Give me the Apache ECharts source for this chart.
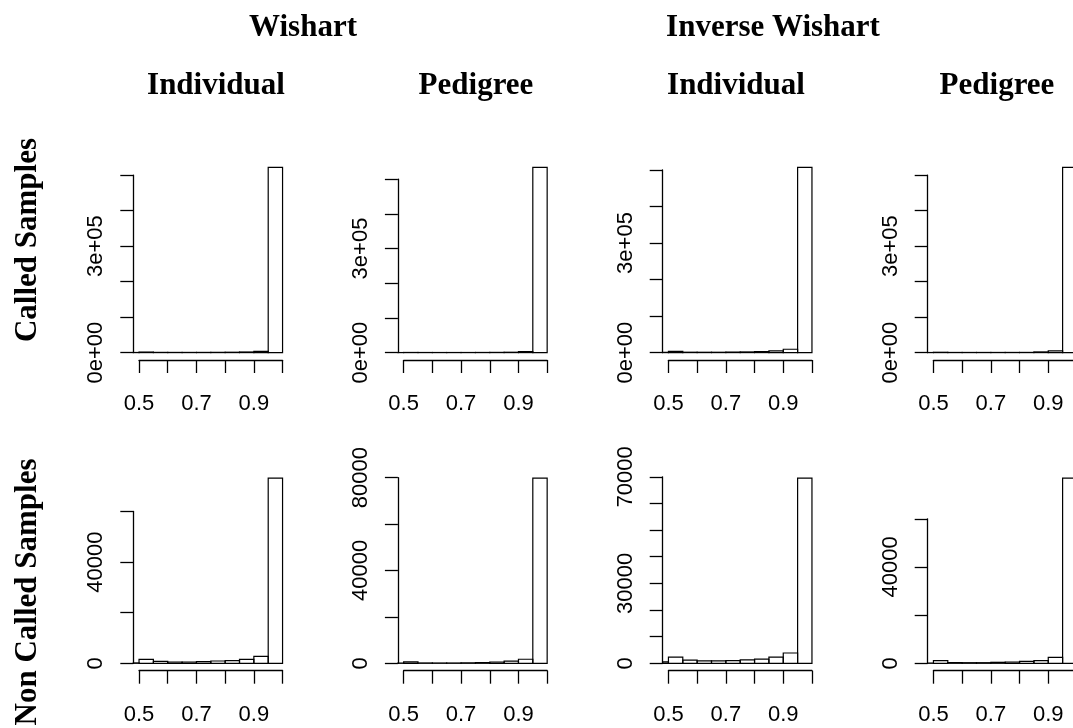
<!DOCTYPE html>
<html>
<head>
<meta charset="utf-8">
<script src="https://cdn.jsdelivr.net/npm/echarts@6/dist/echarts.min.js"></script>
<style>
  html, body { margin: 0; padding: 0; background: #fff; }
  #chart { width: 1073px; height: 728px; }
</style>
</head>
<body>
<div id="chart"></div>
<script>
// Histogram bins (width 0.05); the first bin is partly outside the x range and gets clipped.
const binEdges = [0.45, 0.5, 0.55, 0.6, 0.65, 0.7, 0.75, 0.8, 0.85, 0.9, 0.95, 1.0];

// Counts per bin, one array per panel
const calledWishartIndividual      = [300, 1500, 600, 500, 500, 550, 700, 1000, 1700, 3500, 521700];
const calledWishartPedigree        = [100, 400, 300, 250, 250, 300, 400, 600, 1000, 2900, 533700];
const calledInvWishartIndividual   = [700, 3600, 1000, 900, 900, 1400, 1800, 2700, 4600, 9100, 507000];
const calledInvWishartPedigree     = [200, 900, 400, 400, 400, 400, 450, 500, 1900, 4700, 521700];
const nonCalledWishartIndividual   = [150, 1580, 790, 510, 510, 660, 910, 1050, 1580, 2770, 73200];
const nonCalledWishartPedigree     = [100, 650, 150, 130, 130, 200, 300, 560, 930, 1750, 79800];
const nonCalledInvWishartIndividual = [500, 2300, 1200, 870, 870, 1000, 1250, 1600, 2300, 3870, 69500];
const nonCalledInvWishartPedigree  = [100, 1100, 290, 250, 250, 410, 540, 830, 1100, 2480, 76900];

const panelCounts = [
  calledWishartIndividual, calledWishartPedigree, calledInvWishartIndividual, calledInvWishartPedigree,
  nonCalledWishartIndividual, nonCalledWishartPedigree, nonCalledInvWishartIndividual, nonCalledInvWishartPedigree
];

// Axis ticks
const xTicks = [0.5, 0.6, 0.7, 0.8, 0.9, 1.0];
const xLabelValues = [0.5, 0.7, 0.9];
const xLabelText = ['0.5', '0.7', '0.9'];
const yTickStep = [100000, 100000, 100000, 100000, 20000, 20000, 10000, 20000];
const yTickTop  = [500000, 500000, 500000, 500000, 60000, 80000, 70000, 60000];
const yLabelValues = [[0, 300000], [0, 300000], [0, 300000], [0, 300000],
                      [0, 40000], [0, 40000, 80000], [0, 30000, 70000], [0, 40000]];
const yLabelText = [['0e+00', '3e+05'], ['0e+00', '3e+05'], ['0e+00', '3e+05'], ['0e+00', '3e+05'],
                    ['0', '40000'], ['0', '40000', '80000'], ['0', '30000', '70000'], ['0', '40000']];

// Headings
const groupTitles = ['Wishart', 'Inverse Wishart'];
const columnTitles = ['Individual', 'Pedigree', 'Individual', 'Pedigree'];
const rowTitles = ['Called Samples', 'Non Called Samples'];

// Layout of the plot regions (pixels)
const colLeft = [133.3, 397.9, 662.7, 927.7];
const rowTop = [160, 470.7];
const plotW = 155, plotH = 200;
const groupTitleX = [303, 773];
const columnTitleX = [216, 476, 736, 997];
const rowTitleY = [240, 592];

const INK = '#000';
const tickFont = { fontFamily: '"Liberation Sans", Arial, sans-serif', fontSize: 22, color: INK };
const headFont = { fontFamily: '"Liberation Serif", "Times New Roman", serif', fontWeight: 'bold', fontSize: 31, fill: INK };

// R-style range padding: 4% on each side
const pad = (lo, hi) => [lo - 0.04 * (hi - lo), hi + 0.04 * (hi - lo)];

function renderBin(params, api) {
  const a = api.coord([api.value(0), api.value(2)]);
  const b = api.coord([api.value(1), 0]);
  const cs = params.coordSys;
  const shape = echarts.graphic.clipRectByRect(
    { x: a[0], y: a[1], width: b[0] - a[0], height: b[1] - a[1] },
    { x: cs.x, y: cs.y, width: cs.width, height: cs.height }
  );
  if (!shape) return null;
  return { type: 'rect', shape: shape, style: { fill: 'none', stroke: INK, lineWidth: 1.2 } };
}

const labelLookup = (values, texts) => v => {
  for (let i = 0; i < values.length; i++) {
    if (Math.abs(values[i] - v) < 1e-9 * Math.max(1, Math.abs(v))) return texts[i];
  }
  return '';
};

const gridBase = { containLabel: false, outerBoundsMode: 'none', show: false };
const grids = [], xAxes = [], yAxes = [], series = [];
const hiddenAxis = { type: 'value', show: false, min: 0, max: 1, splitLine: { show: false } };
const lineStyle = { color: INK, width: 1.3 };

panelCounts.forEach((counts, p) => {
  const r = Math.floor(p / 4), c = p % 4;
  const [xLo, xHi] = pad(xTicks[0], xTicks[xTicks.length - 1]);
  const [yLo, yHi] = pad(0, Math.max.apply(null, counts));
  const left = colLeft[c], top = rowTop[r];
  const px = v => left + (v - xLo) / (xHi - xLo) * plotW;
  const py = v => top + (yHi - v) / (yHi - yLo) * plotH;

  // plot region holding the bars
  let gi = grids.length;
  grids.push(Object.assign({ left: left, top: top, width: plotW, height: plotH }, gridBase));
  xAxes.push({ gridIndex: gi, type: 'value', min: xLo, max: xHi, show: false, splitLine: { show: false } });
  yAxes.push({ gridIndex: gi, type: 'value', min: yLo, max: yHi, show: false, splitLine: { show: false } });
  series.push({
    type: 'custom', xAxisIndex: gi, yAxisIndex: gi, silent: true, animation: false,
    data: counts.map((n, i) => [binEdges[i], binEdges[i + 1], n]),
    renderItem: renderBin
  });

  // x axis: spans first to last tick, along the bottom of the plot region
  gi = grids.length;
  const x0 = xTicks[0], x1 = xTicks[xTicks.length - 1];
  grids.push(Object.assign({ left: px(x0), top: top, width: px(x1) - px(x0), height: plotH }, gridBase));
  xAxes.push({
    gridIndex: gi, type: 'value', position: 'bottom', min: x0, max: x1, interval: 0.1,
    axisLine: { show: true, lineStyle: lineStyle },
    axisTick: { show: true, length: 13, inside: false, lineStyle: lineStyle },
    axisLabel: Object.assign({ margin: 33, formatter: labelLookup(xLabelValues, xLabelText) }, tickFont),
    splitLine: { show: false }
  });
  yAxes.push(Object.assign({ gridIndex: gi }, hiddenAxis));

  // y axis: spans 0 to the top tick, along the left of the plot region
  gi = grids.length;
  grids.push(Object.assign({ left: left, top: py(yTickTop[p]), width: plotW, height: py(0) - py(yTickTop[p]) }, gridBase));
  xAxes.push(Object.assign({ gridIndex: gi }, hiddenAxis));
  yAxes.push({
    gridIndex: gi, type: 'value', position: 'left', min: 0, max: yTickTop[p], interval: yTickStep[p],
    axisLine: { show: true, lineStyle: lineStyle },
    axisTick: { show: true, length: 13, inside: false, lineStyle: lineStyle },
    axisLabel: Object.assign({ margin: 26, rotate: 90, formatter: labelLookup(yLabelValues[p], yLabelText[p]) }, tickFont),
    splitLine: { show: false }
  });
});

const graphics = [];
groupTitles.forEach((t, i) => graphics.push({
  type: 'text', x: groupTitleX[i], y: 27.5, silent: true,
  style: Object.assign({ text: t, align: 'center', verticalAlign: 'middle' }, headFont)
}));
columnTitles.forEach((t, i) => graphics.push({
  type: 'text', x: columnTitleX[i], y: 86, silent: true,
  style: Object.assign({ text: t, align: 'center', verticalAlign: 'middle' }, headFont)
}));
rowTitles.forEach((t, i) => graphics.push({
  type: 'text', x: 28, y: rowTitleY[i], rotation: Math.PI / 2, silent: true,
  style: Object.assign({ text: t, align: 'center', verticalAlign: 'middle' }, headFont)
}));

const chart = echarts.init(document.getElementById('chart'), null, { renderer: 'canvas' });
chart.setOption({
  backgroundColor: '#fff',
  animation: false,
  grid: grids,
  xAxis: xAxes,
  yAxis: yAxes,
  series: series,
  graphic: graphics
});
</script>
</body>
</html>
